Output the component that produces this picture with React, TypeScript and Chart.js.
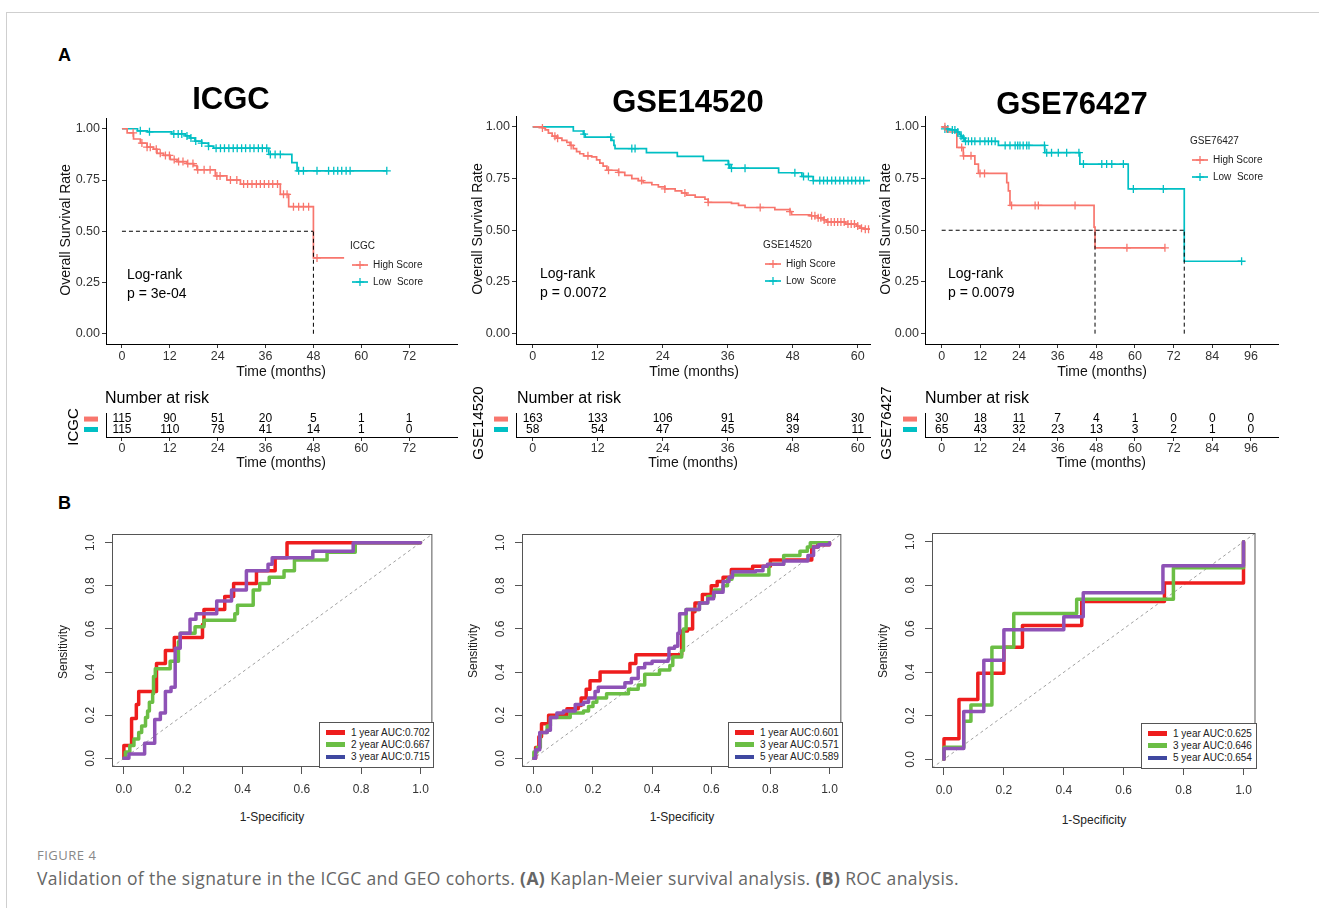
import React, { useEffect, useRef } from 'react';
import { Chart, registerables } from 'chart.js';
Chart.register(...registerables);

const FONT = '"Liberation Sans", Arial, Helvetica, sans-serif';
Chart.defaults.font.family = FONT;
Chart.defaults.color = '#333';

const HIGH = '#F8766D';
const LOW = '#00BFC4';
const RED = '#EE1D1D';
const GREEN = '#6BBE45';
const PURPLE = '#8E52B6';
const BLUE = '#3F48A0';

// ---------- Kaplan-Meier data ----------
const KM_Y_TICKS = [0, 0.25, 0.5, 0.75, 1];

const icgcTicks = [0, 12, 24, 36, 48, 60, 72];
const icgcHighT = [0, 1.3, 2.9, 4.6, 6.3, 7.9, 8.8, 10.4, 12.1, 13.8, 16.3, 18.0, 18.8, 23.4, 26.3, 29.7, 39.7, 41.8, 48.0, 55.7];
const icgcHighS = [1, 0.98, 0.95, 0.93, 0.91, 0.9, 0.88, 0.87, 0.85, 0.84, 0.83, 0.82, 0.8, 0.77, 0.75, 0.73, 0.68, 0.62, 0.37, 0.37];
const icgcHighCens = [2.8, 5.0, 6.3, 7.1, 8.6, 9.6, 10.9, 11.9, 13.1, 14.2, 15.3, 16.5, 17.8, 19.0, 20.6, 22.1, 23.8, 24.6, 27.2, 28.8, 30.5, 31.5, 32.6, 33.7, 34.7, 35.7, 36.8, 37.8, 39.0, 40.5, 41.4, 43.0, 44.3, 45.5, 46.8, 48.9];
const icgcLowT = [0, 3.9, 6.4, 12.5, 15.9, 17.1, 18.3, 20.0, 21.7, 23.0, 36.8, 42.6, 43.9, 66.4];
const icgcLowS = [1, 0.99, 0.985, 0.975, 0.965, 0.955, 0.94, 0.93, 0.915, 0.905, 0.875, 0.835, 0.795, 0.795];
const icgcLowCens = [4.6, 6.9, 13.0, 14.1, 15.0, 16.3, 17.3, 18.5, 20.0, 21.7, 23.6, 24.7, 25.7, 26.8, 27.9, 28.9, 30.0, 31.0, 32.1, 33.1, 34.2, 35.2, 36.3, 37.2, 38.4, 39.7, 44.3, 45.5, 48.9, 51.8, 53.1, 54.1, 55.1, 56.2, 57.2, 66.4];
const icgcMedians = [48.0];

const g145Ticks = [0, 12, 24, 36, 48, 60];
const g145HighT = [0, 1.8, 2.3, 2.9, 3.6, 4.4, 5.4, 6.3, 6.9, 7.5, 8.1, 8.7, 9.4, 10.9, 11.8, 12.4, 13.0, 13.7, 15.8, 17.0, 18.3, 19.5, 20.4, 22.0, 23.2, 24.4, 26.3, 27.5, 28.4, 30.0, 31.8, 32.4, 36.7, 38.0, 39.2, 44.7, 47.5, 47.8, 51.2, 52.7, 53.7, 54.3, 57.7, 59.8, 60.4, 61.2, 62.3];
const g145HighS = [1, 0.995, 0.985, 0.97, 0.955, 0.945, 0.935, 0.925, 0.91, 0.895, 0.88, 0.87, 0.86, 0.855, 0.84, 0.825, 0.81, 0.79, 0.78, 0.765, 0.75, 0.74, 0.73, 0.72, 0.71, 0.7, 0.69, 0.68, 0.67, 0.66, 0.65, 0.635, 0.63, 0.62, 0.61, 0.6, 0.59, 0.575, 0.57, 0.56, 0.55, 0.54, 0.53, 0.52, 0.51, 0.505, 0.505];
const g145HighCens = [1.8, 4.1, 4.6, 7.1, 10.2, 14.0, 15.9, 20.1, 24.4, 28.1, 32.4, 42.0, 47.5, 51.5, 52.1, 52.7, 53.2, 53.8, 54.5, 55.1, 55.7, 56.3, 56.9, 57.5, 58.2, 58.8, 59.4, 60.0, 60.7, 61.4, 62.0];
const g145LowT = [0, 7.5, 9.35, 9.7, 14.6, 15.0, 15.2, 21.0, 26.7, 31.5, 36.1, 36.4, 45.4, 49.7, 51.8, 62.3];
const g145LowS = [1, 0.98, 0.965, 0.95, 0.935, 0.91, 0.895, 0.875, 0.857, 0.837, 0.818, 0.8, 0.778, 0.76, 0.74, 0.74];
const g145LowCens = [9.5, 14.4, 18.3, 18.9, 36.2, 36.7, 39.2, 48.4, 50.0, 50.9, 51.8, 53.0, 53.7, 54.4, 55.2, 55.9, 56.7, 57.4, 58.2, 58.9, 59.6, 60.4, 61.1];
const g145Medians: number[] = [];

const g764Ticks = [0, 12, 24, 36, 48, 60, 72, 84, 96];
const g764HighT = [0, 1.6, 4.7, 6.7, 10.3, 11.4, 20.2, 20.7, 21.2, 47.3, 47.6, 69.3];
const g764HighS = [1, 0.975, 0.9, 0.86, 0.82, 0.775, 0.73, 0.69, 0.62, 0.515, 0.415, 0.415];
const g764HighCens = [1.0, 6.2, 6.8, 9.1, 11.9, 13.3, 21.7, 29.0, 30.0, 41.4, 57.5, 69.3];
const g764LowT = [0, 1.0, 2.3, 4.7, 5.4, 6.0, 6.4, 7.2, 17.6, 32.0, 42.9, 57.9, 75.3, 93.1];
const g764LowS = [1, 0.99, 0.985, 0.975, 0.965, 0.955, 0.945, 0.93, 0.91, 0.875, 0.82, 0.7, 0.35, 0.35];
const g764LowCens = [1.0, 1.9, 3.3, 4.1, 5.0, 6.0, 6.7, 7.4, 8.3, 9.3, 10.3, 11.9, 13.4, 14.5, 15.5, 16.6, 19.7, 21.2, 22.8, 23.6, 24.3, 25.3, 26.4, 27.1, 31.9, 32.6, 34.1, 36.2, 38.8, 42.6, 44.0, 49.7, 51.2, 52.8, 56.4, 59.5, 68.8, 93.1];
const g764Medians = [47.6, 75.3];

// ---------- Number at risk ----------
const icgcRiskHigh = [115, 90, 51, 20, 5, 1, 1];
const icgcRiskLow = [115, 110, 79, 41, 14, 1, 0];
const g145RiskHigh = [163, 133, 106, 91, 84, 30];
const g145RiskLow = [58, 54, 47, 45, 39, 11];
const g764RiskHigh = [30, 18, 11, 7, 4, 1, 0, 0, 0];
const g764RiskLow = [65, 43, 32, 23, 13, 3, 2, 1, 0];

// ---------- ROC data ----------
const ROC_TICKS = [0, 0.2, 0.4, 0.6, 0.8, 1];
const ROC_MIN = -0.04;
const ROC_MAX = 1.04;

const r1RedX = [0, 0, 0.026, 0.042, 0.05, 0.11, 0.14, 0.17, 0.265, 0.27, 0.34, 0.37, 0.447, 0.51, 0.55, 1.0];
const r1RedY = [0, 0.06, 0.185, 0.25, 0.31, 0.44, 0.5, 0.56, 0.62, 0.69, 0.75, 0.81, 0.87, 0.93, 1.0, 1.0];
const r1GreenX = [0, 0.005, 0.02, 0.034, 0.05, 0.06, 0.073, 0.08, 0.086, 0.097, 0.1, 0.106, 0.156, 0.184, 0.19, 0.24, 0.27, 0.374, 0.383, 0.436, 0.458, 0.49, 0.54, 0.575, 0.685, 0.78, 1.0];
const r1GreenY = [0, 0.03, 0.06, 0.09, 0.12, 0.15, 0.19, 0.22, 0.26, 0.3, 0.38, 0.415, 0.45, 0.54, 0.58, 0.61, 0.64, 0.67, 0.71, 0.78, 0.81, 0.84, 0.87, 0.92, 0.955, 1.0, 1.0];
const r1PurpleX = [0, 0.017, 0.07, 0.104, 0.123, 0.14, 0.159, 0.173, 0.19, 0.223, 0.243, 0.313, 0.363, 0.413, 0.486, 0.5, 0.637, 0.773, 1.0];
const r1PurpleY = [0, 0.02, 0.07, 0.18, 0.21, 0.31, 0.33, 0.51, 0.58, 0.645, 0.67, 0.73, 0.78, 0.87, 0.9, 0.93, 0.96, 1.0, 1.0];
const r1Labels = ['1 year AUC:0.702', '2 year AUC:0.667', '3 year AUC:0.715'];

const r2RedX = [0, 0.006, 0.017, 0.026, 0.05, 0.112, 0.15, 0.16, 0.177, 0.19, 0.224, 0.325, 0.345, 0.5, 0.52, 0.537, 0.545, 0.57, 0.6, 0.62, 0.64, 0.668, 0.74, 0.8, 0.94, 0.96, 1.0];
const r2RedY = [0, 0.05, 0.1, 0.16, 0.2, 0.23, 0.245, 0.28, 0.32, 0.36, 0.4, 0.44, 0.48, 0.59, 0.6, 0.68, 0.72, 0.76, 0.8, 0.82, 0.84, 0.875, 0.89, 0.92, 0.98, 0.99, 1.0];
const r2GreenX = [0, 0, 0.011, 0.022, 0.045, 0.056, 0.123, 0.168, 0.185, 0.2, 0.213, 0.246, 0.32, 0.353, 0.375, 0.425, 0.46, 0.47, 0.5, 0.506, 0.515, 0.56, 0.588, 0.61, 0.64, 0.655, 0.67, 0.795, 0.845, 0.9, 0.925, 0.935, 1.0];
const r2GreenY = [0, 0.03, 0.05, 0.12, 0.15, 0.19, 0.21, 0.22, 0.24, 0.26, 0.28, 0.3, 0.32, 0.34, 0.39, 0.41, 0.43, 0.47, 0.5, 0.6, 0.69, 0.72, 0.75, 0.78, 0.8, 0.83, 0.85, 0.9, 0.94, 0.96, 0.98, 1.0, 1.0];
const r2PurpleX = [0, 0.006, 0.02, 0.045, 0.056, 0.078, 0.1, 0.14, 0.168, 0.185, 0.207, 0.218, 0.308, 0.33, 0.353, 0.375, 0.4, 0.454, 0.457, 0.476, 0.487, 0.493, 0.515, 0.56, 0.588, 0.608, 0.64, 0.66, 0.672, 0.75, 0.775, 0.79, 0.845, 0.927, 0.946, 0.963, 1.0];
const r2PurpleY = [0, 0.04, 0.12, 0.13, 0.19, 0.21, 0.22, 0.25, 0.26, 0.28, 0.31, 0.33, 0.35, 0.37, 0.42, 0.44, 0.45, 0.46, 0.51, 0.52, 0.58, 0.67, 0.69, 0.72, 0.74, 0.77, 0.82, 0.84, 0.865, 0.87, 0.89, 0.9, 0.915, 0.94, 0.98, 0.99, 1.0];
const r2Labels = ['1 year AUC:0.601', '3 year AUC:0.571', '5 year AUC:0.589'];

const r3RedX = [0, 0, 0.05, 0.113, 0.2, 0.262, 0.46, 0.736, 1.0];
const r3RedY = [0, 0.095, 0.275, 0.395, 0.515, 0.615, 0.725, 0.81, 1.0];
const r3GreenX = [0, 0, 0.066, 0.09, 0.16, 0.233, 0.443, 0.766, 1.0];
const r3GreenY = [0, 0.055, 0.175, 0.25, 0.515, 0.67, 0.735, 0.88, 1.0];
const r3PurpleX = [0, 0, 0.066, 0.133, 0.2, 0.4, 0.465, 0.731, 1.0];
const r3PurpleY = [0, 0.05, 0.22, 0.455, 0.595, 0.655, 0.765, 0.89, 1.0];
const r3Labels = ['1 year AUC:0.625', '3 year AUC:0.646', '5 year AUC:0.654'];

// ---------- helpers ----------
type Rect = { l: number; t: number; r: number; b: number };
type Margins = { l: number; t: number; r: number; b: number };

const survAt = (t: number[], s: number[], x: number) => {
  let v = s[0];
  for (let i = 0; i < t.length; i++) if (t[i] <= x) v = s[i];
  return v;
};
const pts = (xs: number[], ys: number[]) => xs.map((x, i) => ({ x, y: ys[i] }));

function ChartBox({ rect, m, make }: { rect: Rect; m: Margins; make: () => any }) {
  const ref = useRef<HTMLCanvasElement>(null);
  const w = rect.r - rect.l + m.l + m.r;
  const h = rect.b - rect.t + m.t + m.b;
  useEffect(() => {
    const ch = new Chart(ref.current as HTMLCanvasElement, make());
    return () => ch.destroy();
  }, []);
  return (
    <canvas
      ref={ref}
      width={w}
      height={h}
      style={{ position: 'absolute', left: rect.l - m.l, top: rect.t - m.t, width: w, height: h }}
    />
  );
}

function T(props: any) {
  const { x, y, children, size = 14, align = 'left', rot = false, weight = 'normal', color = '#000', family = FONT, style = {} } = props;
  const tx = align === 'center' ? '-50%' : align === 'right' ? '-100%' : '0';
  return (
    <div
      style={{
        position: 'absolute', left: x, top: y,
        transform: rot ? 'translate(-50%,-50%) rotate(-90deg)' : `translate(${tx},-50%)`,
        fontSize: size, fontWeight: weight, color, fontFamily: family, whiteSpace: 'pre', lineHeight: 1,
        ...style,
      }}
    >
      {children}
    </div>
  );
}

// ---------- KM chart ----------
const KM_M: Margins = { l: 62, t: 8, r: 8, b: 34 };

function kmConfig(p: any) {
  const cens = (c: number[], t: number[], s: number[]) => c.map((x) => ({ x, y: survAt(t, s, x) }));
  const ds: any[] = [
    { data: cens(p.highCens, p.highT, p.highS), showLine: false, pointStyle: 'cross', pointRadius: 4, pointBorderWidth: 1.3, borderColor: HIGH, backgroundColor: HIGH, order: 0 },
    { data: cens(p.lowCens, p.lowT, p.lowS), showLine: false, pointStyle: 'cross', pointRadius: 4, pointBorderWidth: 1.3, borderColor: LOW, backgroundColor: LOW, order: 0 },
    { data: pts(p.highT, p.highS), showLine: true, stepped: true, borderColor: HIGH, borderWidth: 1.7, pointRadius: 0, order: 1 },
    { data: pts(p.lowT, p.lowS), showLine: true, stepped: true, borderColor: LOW, borderWidth: 1.7, pointRadius: 0, order: 1 },
  ];
  const dash = { showLine: true, borderDash: [4, 3], borderColor: '#000', borderWidth: 1, pointRadius: 0, order: 0 };
  p.medians.forEach((md: number) => ds.push({ ...dash, data: [{ x: md, y: 0 }, { x: md, y: 0.5 }] }));
  if (p.medians.length) ds.push({ ...dash, data: [{ x: 0, y: 0.5 }, { x: Math.max(...p.medians), y: 0.5 }] });
  return {
    type: 'scatter',
    data: { datasets: ds },
    options: {
      animation: false, responsive: false, devicePixelRatio: 1,
      layout: { padding: { top: KM_M.t, right: KM_M.r, left: 0, bottom: 0 } },
      plugins: { legend: { display: false }, tooltip: { enabled: false }, title: { display: false } },
      scales: {
        x: {
          type: 'linear', min: p.xMin, max: p.xMax,
          afterBuildTicks: (s: any) => { s.ticks = p.xTicks.map((v: number) => ({ value: v })); },
          afterFit: (s: any) => { s.height = KM_M.b; },
          ticks: { autoSkip: false, maxRotation: 0, minRotation: 0, padding: 1, font: { size: 12.5 }, color: '#333' },
          grid: { drawOnChartArea: false, tickLength: 4, color: '#333' },
          border: { display: true, color: '#000', width: 1 },
        },
        y: {
          type: 'linear', min: -0.05, max: 1.05,
          afterBuildTicks: (s: any) => { s.ticks = KM_Y_TICKS.map((v) => ({ value: v })); },
          afterFit: (s: any) => { s.width = KM_M.l; },
          ticks: { padding: 2, font: { size: 12.5 }, color: '#333', callback: (v: any) => Number(v).toFixed(2) },
          grid: { drawOnChartArea: false, tickLength: 4, color: '#333' },
          border: { display: true, color: '#000', width: 1 },
        },
      },
    },
  };
}

// ---------- Risk table ----------
const RISK_M: Margins = { l: 62, t: 4, r: 8, b: 22 };

function riskConfig(p: any) {
  const rows = [
    { vals: p.high, y: 1, color: HIGH },
    { vals: p.low, y: 0, color: LOW },
  ];
  const ds = rows.map((r) => ({ data: p.xTicks.map((t: number) => ({ x: t, y: r.y })), pointRadius: 0, showLine: false }));
  const plugin = {
    id: 'riskText',
    afterDatasetsDraw(chart: any) {
      const ctx = chart.ctx;
      const a = chart.chartArea;
      const ys = chart.scales.y;
      ctx.save();
      ctx.font = '12px ' + FONT;
      ctx.fillStyle = '#000';
      ctx.textAlign = 'center';
      ctx.textBaseline = 'middle';
      rows.forEach((r, ri) => {
        chart.getDatasetMeta(ri).data.forEach((el: any, i: number) => {
          ctx.fillText(String(r.vals[i]), el.x, el.y);
        });
        const py = ys.getPixelForValue(r.y);
        ctx.fillStyle = r.color;
        ctx.fillRect(a.left - 22, py - 2.5, 14, 5);
        ctx.fillStyle = '#000';
      });
      ctx.restore();
    },
  };
  return {
    type: 'scatter',
    data: { datasets: ds },
    plugins: [plugin],
    options: {
      animation: false, responsive: false, devicePixelRatio: 1,
      layout: { padding: { top: RISK_M.t, right: RISK_M.r, left: 0, bottom: 0 } },
      plugins: { legend: { display: false }, tooltip: { enabled: false } },
      scales: {
        x: {
          type: 'linear', min: p.xMin, max: p.xMax,
          afterBuildTicks: (s: any) => { s.ticks = p.xTicks.map((v: number) => ({ value: v })); },
          afterFit: (s: any) => { s.height = RISK_M.b; },
          ticks: { autoSkip: false, maxRotation: 0, minRotation: 0, padding: 0, font: { size: 12.5 }, color: '#333' },
          grid: { drawOnChartArea: false, tickLength: 4, color: '#333' },
          border: { display: true, color: '#000', width: 1 },
        },
        y: {
          type: 'linear', min: -0.72, max: 1.58,
          afterFit: (s: any) => { s.width = RISK_M.l; },
          ticks: { display: false },
          grid: { display: false, drawTicks: false },
          border: { display: true, color: '#000', width: 1 },
        },
      },
    },
  };
}

// ---------- ROC ----------
const ROC_M: Margins = { l: 40, t: 4, r: 4, b: 34 };

function rocConfig(p: any) {
  const line = (data: any, color: string, order: number) => ({
    data, showLine: true, stepped: true, borderColor: color, borderWidth: 3.5, pointRadius: 0, order,
    borderJoinStyle: 'round', borderCapStyle: 'round',
  });
  const ds: any[] = [
    line(pts(p.purpleX, p.purpleY), PURPLE, 0),
    line(pts(p.greenX, p.greenY), GREEN, 1),
    line(pts(p.redX, p.redY), RED, 2),
    { data: [{ x: ROC_MIN, y: ROC_MIN }, { x: ROC_MAX, y: ROC_MAX }], showLine: true, borderColor: '#888', borderWidth: 0.8, borderDash: [3, 3], pointRadius: 0, order: 3 },
  ];
  const plugin = {
    id: 'rocDecor',
    afterDraw(chart: any) {
      const ctx = chart.ctx;
      const a = chart.chartArea;
      const ys = chart.scales.y;
      ctx.save();
      ctx.strokeStyle = '#555';
      ctx.lineWidth = 1;
      ctx.strokeRect(a.left + 0.5, a.top + 0.5, a.right - a.left - 1, a.bottom - a.top - 1);
      ctx.font = '12px ' + FONT;
      ctx.fillStyle = '#333';
      ctx.textAlign = 'center';
      ctx.textBaseline = 'middle';
      ROC_TICKS.forEach((v) => {
        const py = ys.getPixelForValue(v);
        ctx.save();
        ctx.translate(a.left - 21, py);
        ctx.rotate(-Math.PI / 2);
        ctx.fillText(v.toFixed(1), 0, 0);
        ctx.restore();
      });
      ctx.restore();
    },
  };
  return {
    type: 'scatter',
    data: { datasets: ds },
    plugins: [plugin],
    options: {
      animation: false, responsive: false, devicePixelRatio: 1,
      layout: { padding: { top: ROC_M.t, right: ROC_M.r, left: 0, bottom: 0 } },
      plugins: { legend: { display: false }, tooltip: { enabled: false } },
      scales: {
        x: {
          type: 'linear', min: ROC_MIN, max: ROC_MAX,
          afterBuildTicks: (s: any) => { s.ticks = ROC_TICKS.map((v) => ({ value: v })); },
          afterFit: (s: any) => { s.height = ROC_M.b; },
          ticks: { autoSkip: false, maxRotation: 0, minRotation: 0, padding: 8, font: { size: 12 }, color: '#333', callback: (v: any) => Number(v).toFixed(1) },
          grid: { drawOnChartArea: false, tickLength: 7, color: '#555' },
          border: { display: false },
        },
        y: {
          type: 'linear', min: ROC_MIN, max: ROC_MAX,
          afterBuildTicks: (s: any) => { s.ticks = ROC_TICKS.map((v) => ({ value: v })); },
          afterFit: (s: any) => { s.width = ROC_M.l; },
          ticks: { display: false },
          grid: { drawOnChartArea: false, tickLength: 7, color: '#555' },
          border: { display: false },
        },
      },
    },
  };
}

// ---------- panels ----------
const KM_PANELS = [
  { name: 'ICGC', rect: { l: 106, t: 117, r: 457, b: 344 }, xMin: -4, xMax: 84, xTicks: icgcTicks, highT: icgcHighT, highS: icgcHighS, highCens: icgcHighCens, lowT: icgcLowT, lowS: icgcLowS, lowCens: icgcLowCens, medians: icgcMedians, riskHigh: icgcRiskHigh, riskLow: icgcRiskLow },
  { name: 'GSE14520', rect: { l: 516, t: 115, r: 870, b: 344 }, xMin: -3.08, xMax: 62.27, xTicks: g145Ticks, highT: g145HighT, highS: g145HighS, highCens: g145HighCens, lowT: g145LowT, lowS: g145LowS, lowCens: g145LowCens, medians: g145Medians, riskHigh: g145RiskHigh, riskLow: g145RiskLow },
  { name: 'GSE76427', rect: { l: 925, t: 115, r: 1278, b: 344 }, xMin: -5.18, xMax: 104.4, xTicks: g764Ticks, highT: g764HighT, highS: g764HighS, highCens: g764HighCens, lowT: g764LowT, lowS: g764LowS, lowCens: g764LowCens, medians: g764Medians, riskHigh: g764RiskHigh, riskLow: g764RiskLow },
];

const ROC_PANELS = [
  { rect: { l: 112, t: 534, r: 433, b: 767 }, redX: r1RedX, redY: r1RedY, greenX: r1GreenX, greenY: r1GreenY, purpleX: r1PurpleX, purpleY: r1PurpleY, labels: r1Labels },
  { rect: { l: 522, t: 534, r: 842, b: 767 }, redX: r2RedX, redY: r2RedY, greenX: r2GreenX, greenY: r2GreenY, purpleX: r2PurpleX, purpleY: r2PurpleY, labels: r2Labels },
  { rect: { l: 932, t: 533, r: 1256, b: 768 }, redX: r3RedX, redY: r3RedY, greenX: r3GreenX, greenY: r3GreenY, purpleX: r3PurpleX, purpleY: r3PurpleY, labels: r3Labels },
];

// text layout
const KM_TEXT = [
  { titleX: 231, titleY: 98, ylabX: 65, ylabY: 230, xlabX: 281, xlabY: 371, lrX: 127, lrY: 274, pY: 293, pText: 'p = 3e-04', legX: 350, legY: 246, riskLabX: 72, riskLabY: 427, riskXlabX: 281, numX: 105 },
  { titleX: 688, titleY: 101, ylabX: 477, ylabY: 229, xlabX: 694, xlabY: 371, lrX: 540, lrY: 273, pY: 292, pText: 'p = 0.0072', legX: 763, legY: 245, riskLabX: 477, riskLabY: 423, riskXlabX: 693, numX: 517 },
  { titleX: 1072, titleY: 103, ylabX: 885, ylabY: 229, xlabX: 1102, xlabY: 371, lrX: 948, lrY: 273, pY: 292, pText: 'p = 0.0079', legX: 1190, legY: 141, riskLabX: 885, riskLabY: 423, riskXlabX: 1101, numX: 925 },
];

const ROC_TEXT = [
  { sensX: 63, sensY: 652, specX: 272, specY: 817, leg: { l: 319, t: 722, r: 433, b: 767 } },
  { sensX: 473, sensY: 651, specX: 682, specY: 817, leg: { l: 728, t: 722, r: 842, b: 767 } },
  { sensX: 883, sensY: 651, specX: 1094, specY: 820, leg: { l: 1141, t: 723, r: 1256, b: 768 } },
];

function KMLegendKey({ x, y, color }: { x: number; y: number; color: string }) {
  return (
    <svg style={{ position: 'absolute', left: x, top: y - 6 }} width={18} height={12}>
      <line x1={1} y1={6} x2={17} y2={6} stroke={color} strokeWidth={1.7} />
      <line x1={9} y1={2} x2={9} y2={10} stroke={color} strokeWidth={1.3} />
      <line x1={5} y1={6} x2={13} y2={6} stroke={color} strokeWidth={1.3} />
    </svg>
  );
}

const CAPTION_FONT = '"Open Sans", Lato, sans-serif';

export default function App() {
  return (
    <div style={{ position: 'fixed', left: 0, top: 0, width: 1319, height: 908, background: '#fff', overflow: 'hidden', fontFamily: FONT }}>
      {/* frame */}
      <div style={{ position: 'absolute', left: 6, top: 12, width: 1313, height: 1, background: '#cfcfcf' }} />
      <div style={{ position: 'absolute', left: 6, top: 12, width: 1, height: 896, background: '#cfcfcf' }} />

      <T x={64.5} y={55} size={18} weight="bold" align="center">A</T>
      <T x={64.5} y={503} size={18} weight="bold" align="center">B</T>

      {KM_PANELS.map((p, i) => {
        const tx = KM_TEXT[i];
        return (
          <React.Fragment key={p.name}>
            <ChartBox rect={p.rect} m={KM_M} make={() => kmConfig(p)} />
            <ChartBox
              rect={{ l: p.rect.l, t: 413, r: p.rect.r, b: 437 }}
              m={RISK_M}
              make={() => riskConfig({ xMin: p.xMin, xMax: p.xMax, xTicks: p.xTicks, high: p.riskHigh, low: p.riskLow })}
            />
            <T x={tx.titleX} y={tx.titleY} size={31} weight="bold" align="center">{p.name}</T>
            <T x={tx.ylabX} y={tx.ylabY} size={14} rot color="#111">Overall Survival Rate</T>
            <T x={tx.xlabX} y={tx.xlabY} size={14} align="center" color="#111">Time (months)</T>
            <T x={tx.lrX} y={tx.lrY} size={14}>Log-rank</T>
            <T x={tx.lrX} y={tx.pY} size={14}>{tx.pText}</T>
            <T x={tx.legX} y={tx.legY} size={10} color="#222">{p.name}</T>
            <KMLegendKey x={tx.legX + 1} y={tx.legY + 18.5} color={HIGH} />
            <KMLegendKey x={tx.legX + 1} y={tx.legY + 36} color={LOW} />
            <T x={tx.legX + 23} y={tx.legY + 18.5} size={10} color="#222">High Score</T>
            <T x={tx.legX + 23} y={tx.legY + 36} size={10} color="#222">{'Low  Score'}</T>
            <T x={tx.numX} y={397.5} size={16}>Number at risk</T>
            <T x={tx.riskLabX} y={tx.riskLabY} size={15} rot>{p.name}</T>
            <T x={tx.riskXlabX} y={462} size={14} align="center" color="#111">Time (months)</T>
          </React.Fragment>
        );
      })}

      {ROC_PANELS.map((p, i) => {
        const tx = ROC_TEXT[i];
        const lg = tx.leg;
        const colors = [RED, GREEN, BLUE];
        return (
          <React.Fragment key={'roc' + i}>
            <ChartBox rect={p.rect} m={ROC_M} make={() => rocConfig(p)} />
            <T x={tx.sensX} y={tx.sensY} size={12} rot color="#222">Sensitivity</T>
            <T x={tx.specX} y={tx.specY} size={12} align="center" color="#222">1-Specificity</T>
            <div style={{ position: 'absolute', left: lg.l, top: lg.t, width: lg.r - lg.l - 1, height: lg.b - lg.t - 1, border: '1px solid #555', background: '#fff' }} />
            {p.labels.map((lab: string, k: number) => {
              const yy = lg.t + 10.5 + k * 12.2;
              return (
                <React.Fragment key={lab}>
                  <div style={{ position: 'absolute', left: lg.l + 7, top: yy - 2.25, width: 19, height: 4.5, background: colors[k] }} />
                  <T x={lg.l + 32} y={yy} size={10} color="#222">{lab}</T>
                </React.Fragment>
              );
            })}
          </React.Fragment>
        );
      })}

      <T x={37} y={855} size={13} color="#888" family={CAPTION_FONT} style={{ letterSpacing: 0.5 }}>FIGURE 4</T>
      <div style={{ position: 'absolute', left: 37, top: 867, fontSize: 17.5, letterSpacing: 0.37, color: '#666', fontFamily: CAPTION_FONT, whiteSpace: 'nowrap', lineHeight: '22px' }}>
        Validation of the signature in the ICGC and GEO cohorts. <b>(A)</b> Kaplan-Meier survival analysis. <b>(B)</b> ROC analysis.
      </div>
    </div>
  );
}
